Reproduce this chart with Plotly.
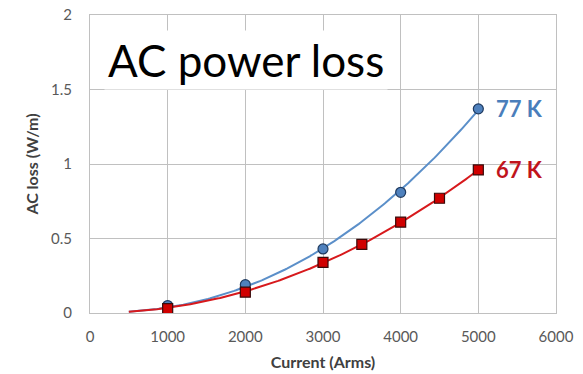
import numpy as np
import plotly.graph_objects as go

current_77 = [1000, 2000, 3000, 4000, 5000]
loss_77 = [0.05, 0.19, 0.43, 0.81, 1.37]
current_67 = [1000, 2000, 3000, 3500, 4000, 4500, 5000]
loss_67 = [0.03, 0.14, 0.34, 0.46, 0.61, 0.77, 0.96]
x_ticks = [0, 1000, 2000, 3000, 4000, 5000, 6000]
y_ticks = [0, 0.5, 1, 1.5, 2]

blue = "#4F81BD"

# power-law trend lines fitted to the measured points (weighted toward large values)
def power_fit(x, y, xs):
    b, a = np.polyfit(np.log(x), np.log(y), 1, w=np.array(y))
    return np.exp(a) * xs ** b

xf = np.linspace(500, 5000, 200)
fit77 = power_fit(current_77, loss_77, xf)
fit67 = power_fit(current_67, loss_67, xf)

fig = go.Figure()
fig.add_trace(go.Scatter(x=xf, y=fit77, mode="lines", line=dict(color="#5B8FC9", width=2), hoverinfo="skip"))
fig.add_trace(go.Scatter(x=xf, y=fit67, mode="lines", line=dict(color="#D7191C", width=2), hoverinfo="skip"))
fig.add_trace(go.Scatter(x=current_77, y=loss_77, mode="markers",
                         marker=dict(symbol="circle", size=10, color=blue, line=dict(color="#1F3A5F", width=1.2))))
fig.add_trace(go.Scatter(x=current_67, y=loss_67, mode="markers",
                         marker=dict(symbol="square", size=10, color="#D00000", line=dict(color="#3A0A0A", width=1.2))))

fig.add_annotation(x=5000, y=loss_77[-1], text="<b>77 K</b>", showarrow=False, xanchor="left", xshift=16,
                   font=dict(family="Lato", size=22, color="#4A7EBB"))
fig.add_annotation(x=5000, y=loss_67[-1], text="<b>67 K</b>", showarrow=False, xanchor="left", xshift=16,
                   font=dict(family="Lato", size=22, color="#C0141C"))
fig.add_annotation(x=0.03, y=0.85, xref="paper", yref="paper", xanchor="left", yanchor="middle",
                   text="AC power loss", showarrow=False,
                   font=dict(family="Lato", size=44, color="#000000"), bgcolor="white", borderpad=3)

fig.update_layout(
    width=583, height=374,
    margin=dict(l=90, r=27, t=15, b=61),
    paper_bgcolor="white", plot_bgcolor="white",
    showlegend=False,
    font=dict(family="Lato", color="#595959"),
)

fig.update_xaxes(range=[0, 6000], tickvals=x_ticks, ticktext=[str(v) for v in x_ticks],
                 showgrid=True, gridcolor="#C0C0C0", gridwidth=1, zeroline=False,
                 showline=True, linecolor="#C0C0C0", mirror=True, automargin=False,
                 tickfont=dict(family="Lato", size=15, color="#595959"), ticklabelstandoff=10,
                 title=dict(text="<b>Current (Arms)</b>", font=dict(family="Lato", size=16, color="#404040"), standoff=12))
fig.update_yaxes(range=[0, 2], tickvals=y_ticks, ticktext=["0", "0.5", "1", "1.5", "2"],
                 showgrid=True, gridcolor="#C0C0C0", gridwidth=1, zeroline=False,
                 showline=True, linecolor="#C0C0C0", mirror=True, automargin=False,
                 tickfont=dict(family="Lato", size=15, color="#595959"), ticklabelstandoff=14,
                 title=dict(text="<b>AC loss (W/m)</b>", font=dict(family="Lato", size=16, color="#404040"), standoff=8))

# remove the browser's default 8px body margin so the figure fills the window exactly
fig.write_html("out.html", config={"displayModeBar": False},
               post_script="document.body.style.margin='0';")
